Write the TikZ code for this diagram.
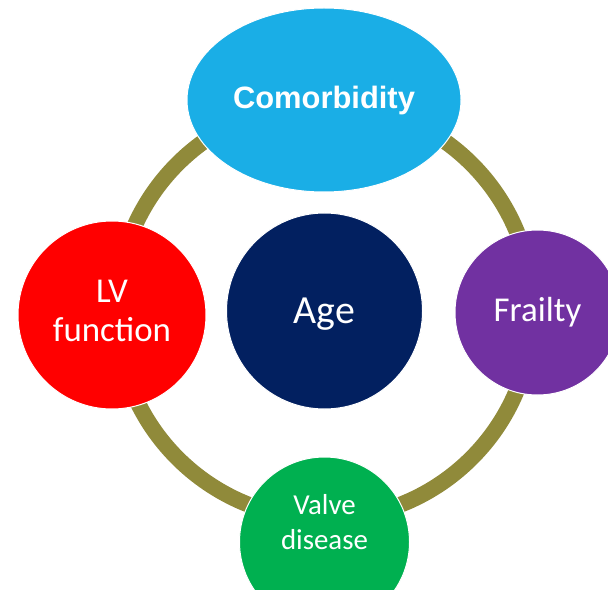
\documentclass[tikz,border=0pt]{standalone}
\usepackage{fontspec}
\setmainfont{Carlito}
\newfontfamily\arialfont{Liberation Sans}
\usetikzlibrary{shapes.geometric}
\definecolor{comoblue}{HTML}{1AAEE6}
\definecolor{agenavy}{HTML}{022060}
\definecolor{lvred}{HTML}{FF0000}
\definecolor{frailpurple}{HTML}{7131A1}
\definecolor{valvegreen}{HTML}{00B050}
\definecolor{ringolive}{HTML}{908A3A}
\begin{document}
\begin{tikzpicture}[x=1bp,y=-1bp,
  bub/.style={circle, inner sep=0pt, draw=white, line width=1bp},
  txt/.style={inner sep=0pt, text=white, align=center},
  ringline/.style={draw=ringolive, line width=16bp}]
\useasboundingbox (0,0) rectangle (608,590);
\clip (0,0) rectangle (608,590);
\node[bub, fill=agenavy, minimum size=196bp,
  label={[txt, yshift=-3bp, font=\fontsize{40}{48}\selectfont]center:Age}] (age) at (324.5,311) {};
\draw[ringline] (age.center) circle[radius=208bp];
\node[bub, ellipse, fill=comoblue, minimum width=274bp, minimum height=184bp,
  label={[txt, yshift=-1bp, font=\arialfont\bfseries\fontsize{31}{37}\selectfont]center:Comorbidity}] (como) at (324,100) {};
\node[bub, fill=lvred, minimum size=188bp,
  label={[txt, yshift=4bp, font=\fontsize{35}{40}\selectfont]center:{LV\\function}}] (lv) at (112,315) {};
\node[bub, fill=frailpurple, minimum size=165bp,
  label={[txt, font=\fontsize{35}{42}\selectfont]center:Frailty}] (frail) at (537.5,312.5) {};
\node[bub, fill=valvegreen, minimum size=170bp,
  label={[txt, yshift=19.5bp, font=\fontsize{29}{35}\selectfont]center:{Valve\\disease}}] (valve) at (324.5,542) {};
\end{tikzpicture}
\end{document}
